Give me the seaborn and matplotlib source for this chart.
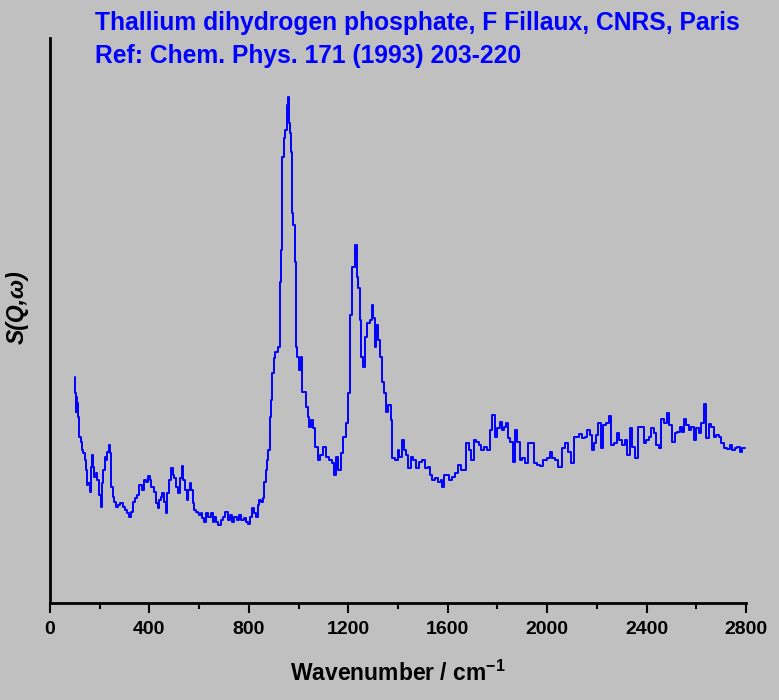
import numpy as np
import pandas as pd
import matplotlib
matplotlib.use("Agg")
import matplotlib.pyplot as plt
from matplotlib.ticker import MultipleLocator
import seaborn as sns

# INS spectrum of TlH2PO4 (arbitrary units)
wavenumber = [
    99, 101, 105, 107, 110, 114, 121, 128, 132, 137, 141, 145, 150, 157, 164, 168,
    172, 177, 181, 188, 194, 201, 206, 212, 218, 222, 228, 233, 239, 243, 248, 255,
    261, 268, 279, 288, 298, 306, 315, 322, 329, 335, 346, 355, 365, 373, 382, 391,
    399, 402, 413, 422, 429, 436, 443, 449, 456, 463, 469, 476, 483, 490, 496, 503,
    512, 520, 526, 534, 539, 547, 552, 560, 566, 572, 579, 583, 590, 597, 603, 610,
    617, 624, 633, 641, 651, 657, 664, 673, 681, 691, 700, 711, 720, 728, 737, 747,
    755, 764, 775, 784, 794, 802, 807, 815, 825, 832, 838, 845, 852, 858, 865, 869,
    874, 882, 885, 892, 898, 902, 912, 922, 925,
    928, 934, 936, 943, 948, 955, 959, 963, 968, 972, 976, 982, 986, 990, 992, 999,
    1006, 1013, 1017, 1026, 1033, 1039, 1046, 1053, 1062, 1073, 1083, 1093, 1106, 1116,
    1126, 1140, 1147, 1153, 1167, 1174, 1184, 1194, 1200, 1210, 1220, 1231, 1238, 1244,
    1250, 1254, 1263, 1271, 1281, 1290, 1297, 1304, 1310, 1317, 1325, 1334, 1338, 1348,
    1355, 1365, 1375, 1379, 1395, 1401, 1411, 1419, 1428, 1437, 1446, 1455, 1468, 1478,
    1489, 1502, 1513, 1526, 1532, 1542, 1556, 1566, 1576, 1582, 1589, 1602, 1612, 1623,
    1633, 1647, 1656, 1670, 1679, 1690, 1701, 1710, 1721, 1730, 1741, 1754, 1763, 1774,
    1783, 1794, 1804, 1813, 1821, 1831, 1840, 1848, 1857, 1867, 1875, 1884, 1894, 1904,
    1915, 1928, 1942, 1951, 1964, 1978, 1991, 2005, 2014, 2025, 2039, 2052, 2068, 2079,
    2089, 2103, 2112, 2125, 2135, 2146, 2156, 2166, 2177, 2183, 2193, 2202, 2210, 2220,
    2229, 2242, 2253, 2264, 2277, 2286, 2296, 2306, 2317, 2327, 2337, 2347, 2358, 2371,
    2384, 2394, 2403, 2414, 2425, 2434, 2443, 2454, 2465, 2478, 2487, 2497, 2508, 2518,
    2528, 2537, 2545, 2555, 2564, 2575, 2586, 2595, 2604, 2615, 2626, 2635, 2644, 2655,
    2666, 2675, 2685, 2695, 2706, 2716, 2729, 2739, 2749, 2760, 2769, 2779, 2789, 2796,
]
intensity = [
    2.26, 2.10, 1.91, 2.06, 2.00, 1.86, 1.66, 1.61, 1.53, 1.50, 1.43, 1.33, 1.18, 1.20, 1.11, 1.36,
    1.48, 1.36, 1.26, 1.30, 1.23, 1.08, 0.96, 1.20, 1.33, 1.46, 1.43, 1.51, 1.58, 1.50, 1.16, 1.06,
    1.01, 0.96, 0.98, 1.00, 0.96, 0.93, 0.90, 0.86, 0.91, 1.01, 1.05, 1.08, 1.18, 1.13, 1.23, 1.21,
    1.27, 1.23, 1.16, 1.11, 1.00, 0.95, 1.03, 1.06, 1.10, 1.01, 0.90, 1.10, 1.23, 1.35, 1.28, 1.25,
    1.16, 1.10, 1.25, 1.37, 1.23, 1.13, 1.03, 1.13, 1.20, 1.13, 1.00, 0.93, 0.91, 0.90, 0.88, 0.90,
    0.85, 0.81, 0.90, 0.86, 0.90, 0.81, 0.86, 0.81, 0.78, 0.83, 0.86, 0.91, 0.83, 0.88, 0.81, 0.86,
    0.83, 0.88, 0.83, 0.85, 0.81, 0.79, 0.86, 0.95, 0.90, 0.86, 0.98, 1.03, 1.01, 1.05, 1.21, 1.33,
    1.43, 1.53, 1.86, 2.03, 2.30, 2.45, 2.51, 2.56, 2.68,
    3.21, 3.53, 4.46, 4.65, 4.73, 4.98, 5.06, 4.80, 4.70, 4.51, 3.90, 3.78, 3.41, 3.10, 2.56, 2.46,
    2.33, 2.46, 2.11, 2.11, 1.96, 1.86, 1.76, 1.83, 1.75, 1.56, 1.43, 1.48, 1.56, 1.46,
    1.43, 1.40, 1.28, 1.46, 1.33, 1.50, 1.66, 1.80, 2.10, 2.88, 3.36, 3.58, 3.26, 3.15,
    2.83, 2.46, 2.36, 2.66, 2.80, 2.83, 2.98, 2.85, 2.56, 2.78, 2.63, 2.46, 2.21, 2.10,
    1.91, 1.98, 1.83, 1.45, 1.43, 1.53, 1.46, 1.63, 1.53, 1.48, 1.35, 1.46, 1.43, 1.35,
    1.41, 1.43, 1.35, 1.36, 1.28, 1.23, 1.25, 1.21, 1.23, 1.16, 1.28, 1.28, 1.23, 1.26,
    1.30, 1.38, 1.33, 1.33, 1.60, 1.53, 1.43, 1.63, 1.61, 1.58, 1.53, 1.56, 1.53, 1.73,
    1.88, 1.66, 1.75, 1.81, 1.73, 1.76, 1.80, 1.65, 1.61, 1.41, 1.73, 1.61, 1.43, 1.45,
    1.40, 1.60, 1.60, 1.40, 1.38, 1.37, 1.43, 1.45, 1.51, 1.45, 1.43, 1.36, 1.55, 1.60,
    1.51, 1.40, 1.66, 1.66, 1.69, 1.65, 1.66, 1.73, 1.68, 1.53, 1.60, 1.68, 1.80, 1.55,
    1.78, 1.80, 1.87, 1.58, 1.60, 1.70, 1.63, 1.58, 1.63, 1.48, 1.75, 1.56, 1.45, 1.76,
    1.76, 1.60, 1.63, 1.66, 1.75, 1.70, 1.58, 1.55, 1.84, 1.80, 1.90, 1.78, 1.61, 1.70,
    1.71, 1.76, 1.71, 1.84, 1.78, 1.73, 1.76, 1.63, 1.75, 1.70, 1.80, 1.99, 1.65, 1.79,
    1.76, 1.66, 1.68, 1.66, 1.60, 1.55, 1.54, 1.58, 1.53, 1.55, 1.56, 1.51, 1.55, 1.55,
]

title_lines = ["Thallium dihydrogen phosphate, F Fillaux, CNRS, Paris",
               "Ref: Chem. Phys. 171 (1993) 203-220"]

df = pd.DataFrame({"wavenumber": wavenumber, "intensity": intensity})

bg = "#c0c0c0"
sns.set_style("ticks")
plt.rcParams["font.family"] = ["Liberation Sans", "DejaVu Sans"]
plt.rcParams["font.weight"] = "bold"
plt.rcParams["text.color"] = "black"
plt.rcParams["axes.labelcolor"] = "black"
plt.rcParams["mathtext.fontset"] = "custom"
plt.rcParams["mathtext.rm"] = "Liberation Sans"
plt.rcParams["mathtext.bf"] = "Liberation Sans:bold"

fig = plt.figure(figsize=(7.79, 7.0), dpi=100, facecolor=bg)
ax = fig.add_axes([50 / 779, 97 / 700, 696 / 779, 565 / 700])
ax.set_facecolor(bg)

sns.lineplot(data=df, x="wavenumber", y="intensity", ax=ax, color="#0000ff",
             linewidth=1.4, drawstyle="steps-mid", estimator=None, sort=False)

ax.set_xlim(0, 2800)
ax.set_ylim(0, 5.65)
ax.xaxis.set_major_locator(MultipleLocator(400))
ax.xaxis.set_minor_locator(MultipleLocator(200))
ax.set_yticks([])
sns.despine(ax=ax)
for side in ["left", "bottom"]:
    ax.spines[side].set_linewidth(2.0)
    ax.spines[side].set_color("black")
ax.tick_params(axis="x", which="major", direction="out", length=7, width=1.5,
               labelsize=14, pad=6, colors="black")
ax.tick_params(axis="x", which="minor", direction="out", length=4.5, width=1.5,
               colors="black")
for lbl in ax.get_xticklabels():
    lbl.set_fontweight("bold")

ax.set_xlabel("Wavenumber / cm$^{\\mathbf{-1}}$", fontsize=16.5, fontweight="bold",
              labelpad=16)
ax.set_ylabel("S(Q,ω)", fontsize=16.5, fontweight="bold", fontstyle="italic")
ax.yaxis.set_label_coords(-0.03, 0.524)

fig.text(95 / 779, 1 - 30 / 700, title_lines[0], color="#0000ff", fontsize=17.7,
         fontweight="bold", va="baseline", ha="left")
fig.text(95 / 779, 1 - 63 / 700, title_lines[1], color="#0000ff", fontsize=17.7,
         fontweight="bold", va="baseline", ha="left")

fig.savefig("out.png", dpi=100, facecolor=bg)
